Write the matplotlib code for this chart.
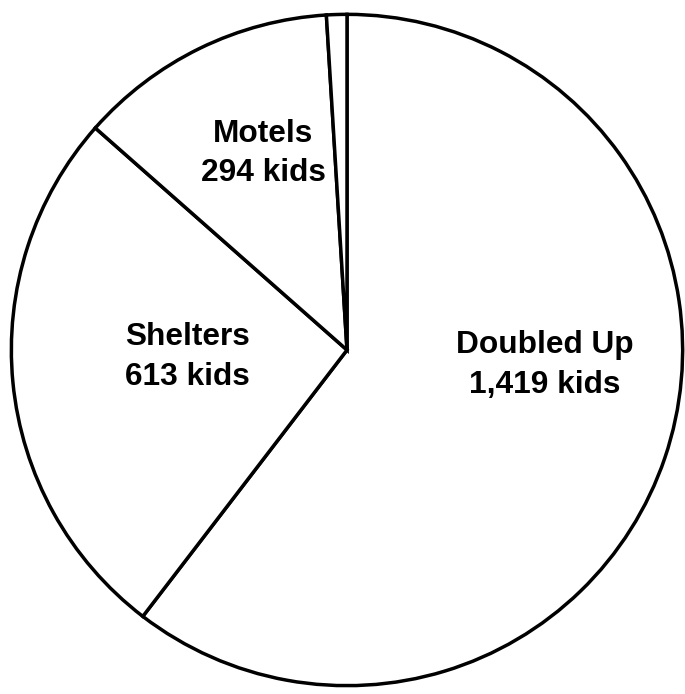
import matplotlib
matplotlib.use("Agg")
import matplotlib.pyplot as plt

categories = ["Doubled Up", "Shelters", "Motels", "Unsheltered"]
values = [1419, 613, 294, 23]
label_texts = ["Doubled Up\n1,419 kids", "Shelters\n613 kids", "Motels\n294 kids", ""]

W, H = 685, 694
fig = plt.figure(figsize=(W / 100, H / 100), dpi=100)
cx, cy, r = 347, 350, 339
ax = fig.add_axes([(cx - r) / W, (H - cy - r) / H, 2 * r / W, 2 * r / H])

wedges, _ = ax.pie(values, startangle=90, counterclock=False, radius=1,
                   colors=["white"] * len(values),
                   wedgeprops=dict(edgecolor="black", linewidth=2.5))
ax.set_xlim(-1.01, 1.01)
ax.set_ylim(-1.01, 1.01)
ax.set_aspect("equal")
ax.axis("off")

label_pos = [(0.59, -0.045), (-0.475, -0.02), (-0.25, 0.585)]
for (x, y), t in zip(label_pos, label_texts):
    ax.text(x, y, t, ha="center", va="center", fontsize=22.8, fontweight="bold",
            family="Liberation Sans", linespacing=1.42)

fig.savefig("out.png", dpi=100, facecolor="white")
